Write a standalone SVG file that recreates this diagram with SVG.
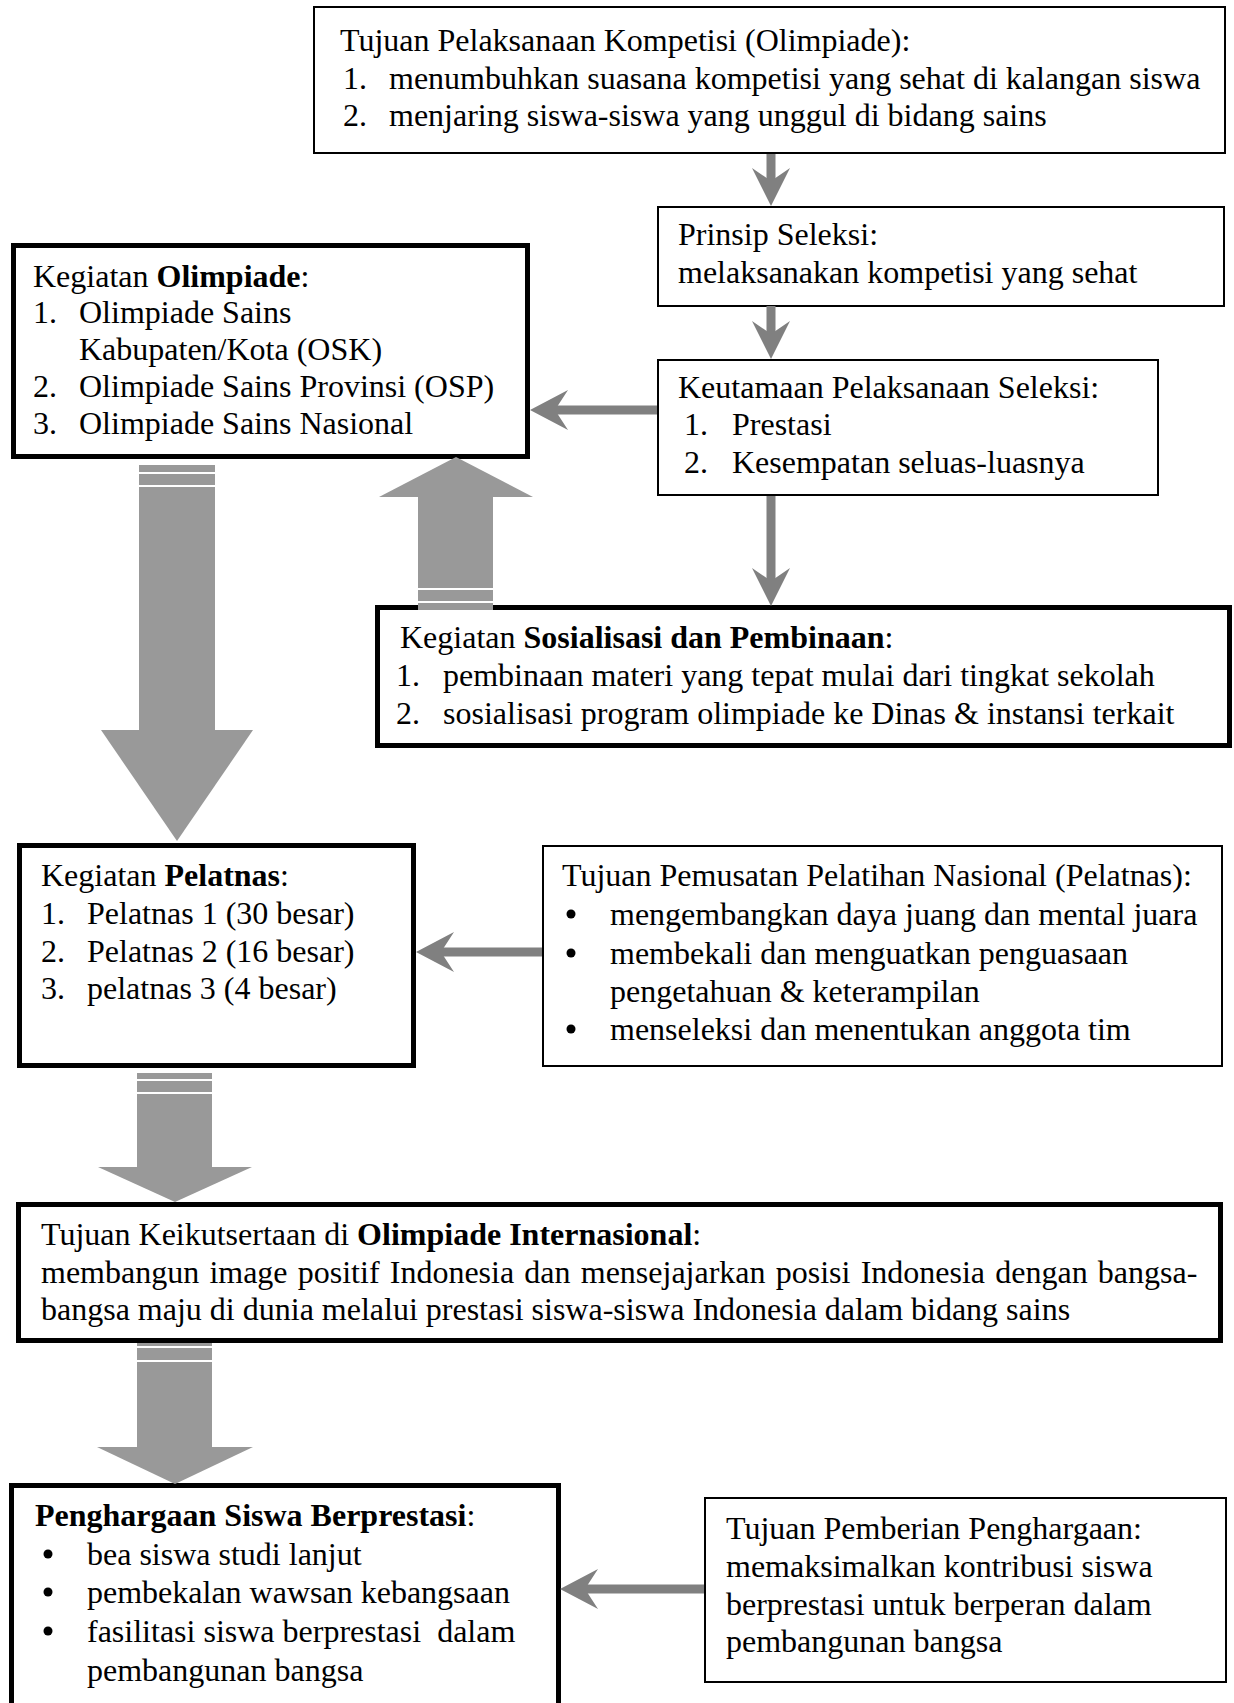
<svg xmlns="http://www.w3.org/2000/svg" width="1234" height="1703" viewBox="0 0 1234 1703">
<style>
.t{font-family:"Liberation Serif","Times New Roman",serif;font-size:32px;fill:#000}
.b{font-weight:bold}
.thin{fill:#fff;stroke:#000;stroke-width:2}
.thick{fill:#fff;stroke:#000;stroke-width:5}
.ca{fill:#808080}
.big{fill:#999999}
.dot{fill:#000}
</style>
<rect width="1234" height="1703" fill="#fff"/>

<g id="node-tujuan-kompetisi">
<rect class="thin" x="314" y="7" width="911" height="146"/>
<text class="t" x="340" y="51">Tujuan Pelaksanaan Kompetisi (Olimpiade):</text>
<text class="t" x="343" y="89">1.</text>
<text class="t" x="389" y="89">menumbuhkan suasana kompetisi yang sehat di kalangan siswa</text>
<text class="t" x="343" y="126">2.</text>
<text class="t" x="389" y="126">menjaring siswa-siswa yang unggul di bidang sains</text>
</g>

<g id="node-prinsip">
<rect class="thin" x="658" y="207" width="566" height="99"/>
<text class="t" x="678" y="245">Prinsip Seleksi:</text>
<text class="t" x="678" y="283">melaksanakan kompetisi yang sehat</text>
</g>

<g id="node-keutamaan">
<rect class="thin" x="658" y="360" width="500" height="135"/>
<text class="t" x="678" y="398">Keutamaan Pelaksanaan Seleksi:</text>
<text class="t" x="684" y="435">1.</text>
<text class="t" x="732" y="435">Prestasi</text>
<text class="t" x="684" y="473">2.</text>
<text class="t" x="732" y="473">Kesempatan seluas-luasnya</text>
</g>

<g id="node-olimpiade">
<rect class="thick" x="13.5" y="245.5" width="514" height="211"/>
<text class="t" x="33" y="287">Kegiatan <tspan class="b">Olimpiade</tspan>:</text>
<text class="t" x="33" y="323">1.</text>
<text class="t" x="79" y="323">Olimpiade Sains</text>
<text class="t" x="79" y="360">Kabupaten/Kota (OSK)</text>
<text class="t" x="33" y="397">2.</text>
<text class="t" x="79" y="397">Olimpiade Sains Provinsi (OSP)</text>
<text class="t" x="33" y="434">3.</text>
<text class="t" x="79" y="434">Olimpiade Sains Nasional</text>
</g>

<g id="node-sosialisasi">
<rect class="thick" x="377.5" y="607.5" width="852" height="138"/>
<text class="t" x="400" y="648">Kegiatan <tspan class="b">Sosialisasi dan Pembinaan</tspan>:</text>
<text class="t" x="396" y="686">1.</text>
<text class="t" x="443" y="686">pembinaan materi yang tepat mulai dari tingkat sekolah</text>
<text class="t" x="396" y="724">2.</text>
<text class="t" x="443" y="724">sosialisasi program olimpiade ke Dinas &amp; instansi terkait</text>
</g>

<g id="node-pelatnas">
<rect class="thick" x="19.5" y="845.5" width="394" height="220"/>
<text class="t" x="41" y="886">Kegiatan <tspan class="b">Pelatnas</tspan>:</text>
<text class="t" x="41" y="924">1.</text>
<text class="t" x="87" y="924">Pelatnas 1 (30 besar)</text>
<text class="t" x="41" y="962">2.</text>
<text class="t" x="87" y="962">Pelatnas 2 (16 besar)</text>
<text class="t" x="41" y="999">3.</text>
<text class="t" x="87" y="999">pelatnas 3 (4 besar)</text>
</g>

<g id="node-tujuan-pelatnas">
<rect class="thin" x="543" y="846" width="679" height="220"/>
<text class="t" x="562" y="886">Tujuan Pemusatan Pelatihan Nasional (Pelatnas):</text>
<circle class="dot" cx="571" cy="914" r="4.5"/>
<text class="t" x="610" y="925">mengembangkan daya juang dan mental juara</text>
<circle class="dot" cx="571" cy="953" r="4.5"/>
<text class="t" x="610" y="964">membekali dan menguatkan penguasaan</text>
<text class="t" x="610" y="1002">pengetahuan &amp; keterampilan</text>
<circle class="dot" cx="571" cy="1029" r="4.5"/>
<text class="t" x="610" y="1040">menseleksi dan menentukan anggota tim</text>
</g>

<g id="node-internasional">
<rect class="thick" x="18.5" y="1204.5" width="1202" height="136"/>
<text class="t" x="41" y="1245">Tujuan Keikutsertaan di <tspan class="b">Olimpiade Internasional</tspan>:</text>
<text class="t" x="41" y="1283" word-spacing="2.2">membangun image positif Indonesia dan mensejajarkan posisi Indonesia dengan bangsa-</text>
<text class="t" x="41" y="1320">bangsa maju di dunia melalui prestasi siswa-siswa Indonesia dalam bidang sains</text>
</g>

<g id="node-penghargaan">
<rect class="thick" x="11.5" y="1485.5" width="547" height="240"/>
<text class="t" x="35" y="1526"><tspan class="b">Penghargaan Siswa Berprestasi</tspan>:</text>
<circle class="dot" cx="48" cy="1554" r="4.5"/>
<text class="t" x="87" y="1565">bea siswa studi lanjut</text>
<circle class="dot" cx="48" cy="1592" r="4.5"/>
<text class="t" x="87" y="1603">pembekalan wawsan kebangsaan</text>
<circle class="dot" cx="48" cy="1631" r="4.5"/>
<text class="t" x="87" y="1642" xml:space="preserve">fasilitasi siswa berprestasi  dalam</text>
<text class="t" x="87" y="1681">pembangunan bangsa</text>
</g>

<g id="node-tujuan-penghargaan">
<rect class="thin" x="705" y="1498" width="521" height="184"/>
<text class="t" x="726" y="1539">Tujuan Pemberian Penghargaan:</text>
<text class="t" x="726" y="1577">memaksimalkan kontribusi siswa</text>
<text class="t" x="726" y="1615">berprestasi untuk berperan dalam</text>
<text class="t" x="726" y="1652">pembangunan bangsa</text>
</g>

<g id="connectors">
<!-- thin stealth arrows down -->
<rect class="ca" x="766.5" y="154" width="9" height="30"/>
<polygon class="ca" points="771,206 752,168 771,181 790,168"/>
<rect class="ca" x="766.5" y="306" width="9" height="30"/>
<polygon class="ca" points="771,359 752,321 771,334 790,321"/>
<rect class="ca" x="766.5" y="496" width="9" height="88"/>
<polygon class="ca" points="771,606 752,568 771,581 790,568"/>
<!-- thin stealth arrows left -->
<rect class="ca" x="553" y="405.5" width="104" height="9"/>
<polygon class="ca" points="530,410 568,390 555,410 568,430"/>
<rect class="ca" x="439" y="947.5" width="103" height="9"/>
<polygon class="ca" points="416,952 454,932 441,952 454,972"/>
<rect class="ca" x="583" y="1584.5" width="121" height="9"/>
<polygon class="ca" points="560,1589 598,1569 585,1589 598,1609"/>
<!-- big striped arrow up: Sosialisasi -> Olimpiade -->
<rect class="big" x="418" y="603" width="75" height="7"/>
<rect class="big" x="418" y="590" width="75" height="11"/>
<rect class="big" x="418" y="496" width="75" height="92"/>
<polygon class="big" points="456,457 533,497 379,497"/>
<!-- big striped arrow down 1: Olimpiade -> Pelatnas -->
<rect class="big" x="139" y="465" width="76" height="7"/>
<rect class="big" x="139" y="474" width="76" height="11"/>
<rect class="big" x="139" y="487" width="76" height="244"/>
<polygon class="big" points="101,730 253,730 177,841"/>
<!-- big striped arrow down 2: Pelatnas -> Internasional -->
<rect class="big" x="137" y="1073" width="75" height="6"/>
<rect class="big" x="137" y="1081" width="75" height="11"/>
<rect class="big" x="137" y="1094" width="75" height="74"/>
<polygon class="big" points="98,1167 252,1167 175,1202"/>
<!-- big striped arrow down 3: Internasional -> Penghargaan -->
<rect class="big" x="137" y="1343" width="75" height="3"/>
<rect class="big" x="137" y="1348" width="75" height="12"/>
<rect class="big" x="137" y="1362" width="75" height="86"/>
<polygon class="big" points="97,1447 253,1447 175,1484"/>
</g>
</svg>
